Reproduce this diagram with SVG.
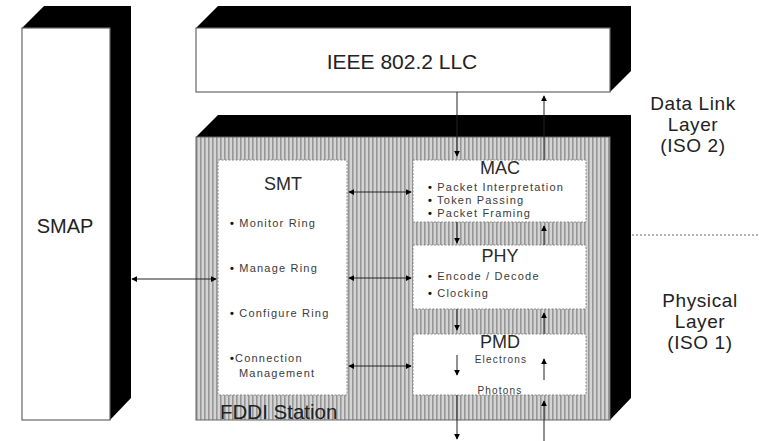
<svg xmlns="http://www.w3.org/2000/svg" width="759" height="441" viewBox="0 0 759 441">
<defs>
<pattern id="stripes" width="4" height="4" patternUnits="userSpaceOnUse">
<rect width="4" height="4" fill="#d4d4d4"/>
<rect width="1.6" height="4" fill="#979797"/>
</pattern>
<marker id="ah" viewBox="0 0 8 8" refX="7" refY="4" markerWidth="6" markerHeight="6" orient="auto-start-reverse" markerUnits="userSpaceOnUse">
<path d="M0,0 L8,4 L0,8 z" fill="#000"/>
</marker>
<style>
.t{font-family:"Liberation Sans",Arial,sans-serif;fill:#222}
.ttl{font-size:18px;text-anchor:middle;fill:#2a2a2a}
.itm{font-size:11px;letter-spacing:1.2px;fill:#3a3a3a}
.sm{font-size:10px;letter-spacing:1.2px;fill:#3a3a3a}
.b{font-weight:bold;fill:#111}
.lay{font-size:19px;text-anchor:middle;letter-spacing:0.6px}
.front{fill:#fff;stroke:#666;stroke-width:1.2}
.blk{fill:#000}
.inner{fill:#fff;stroke:#888;stroke-width:1;stroke-dasharray:2 1.5}
.c{stroke:#222;stroke-width:1;fill:none}
</style>
</defs>

<g id="smap">
<polygon class="blk" points="22,28 44,6 131,6 131,398 110,420 110,28"/>
<rect class="front" x="22" y="28" width="88" height="392"/>
<text class="t" x="65" y="233" font-size="20" text-anchor="middle">SMAP</text>
</g>

<g id="llc">
<polygon class="blk" points="196,28 218,6 631,6 631,71 610,92 610,28"/>
<rect class="front" x="196" y="28" width="414" height="64"/>
<text class="t" x="402" y="69" font-size="21" text-anchor="middle">IEEE 802.2 LLC</text>
</g>

<g id="fddi">
<polygon class="blk" points="196,137 218,115 631,115 631,398 610,420 610,137"/>
<rect x="196" y="137" width="414" height="283" fill="url(#stripes)" stroke="#666" stroke-width="1"/>
<text class="t" x="220" y="419" font-size="20.5">FDDI Station</text>
</g>

<g id="smt">
<rect class="inner" x="218" y="160" width="129" height="235"/>
<text class="t ttl" x="283" y="190">SMT</text>
<text class="t itm" x="230" y="227"><tspan class="b">•</tspan> Monitor Ring</text>
<text class="t itm" x="230" y="272"><tspan class="b">•</tspan> Manage Ring</text>
<text class="t itm" x="230" y="317"><tspan class="b">•</tspan> Configure Ring</text>
<text class="t itm" x="230" y="362"><tspan class="b">•</tspan>Connection</text>
<text class="t itm" x="239" y="377">Management</text>
</g>

<g id="mac">
<rect class="inner" x="413" y="160" width="173" height="62"/>
<text class="t ttl" x="500" y="174">MAC</text>
<text class="t itm" x="428" y="191"><tspan class="b">•</tspan>  Packet Interpretation</text>
<text class="t itm" x="428" y="204"><tspan class="b">•</tspan> Token Passing</text>
<text class="t itm" x="428" y="217"><tspan class="b">•</tspan>  Packet Framing</text>
</g>

<g id="phy">
<rect class="inner" x="413" y="245" width="173" height="64"/>
<text class="t ttl" x="500" y="262">PHY</text>
<text class="t itm" x="428" y="280"><tspan class="b">•</tspan> Encode / Decode</text>
<text class="t itm" x="428" y="297"><tspan class="b">•</tspan> Clocking</text>
</g>

<g id="pmd">
<rect class="inner" x="413" y="334" width="173" height="61"/>
<text class="t ttl" x="500" y="348">PMD</text>
<text class="t sm" x="501" y="363" text-anchor="middle">Electrons</text>
<text class="t sm" x="500" y="394" text-anchor="middle">Photons</text>
</g>

<g id="layers">
<text class="t lay" x="693" y="110">Data Link</text>
<text class="t lay" x="693" y="131">Layer</text>
<text class="t lay" x="693" y="152">(ISO 2)</text>
<text class="t lay" x="700" y="307">Physical</text>
<text class="t lay" x="700" y="328">Layer</text>
<text class="t lay" x="700" y="349">(ISO 1)</text>
<line x1="632" y1="235" x2="759" y2="235" stroke="#999" stroke-width="1.5" stroke-dasharray="2 2"/>
</g>

<g id="connectors">
<line class="c" x1="457" y1="92" x2="457" y2="156" marker-end="url(#ah)"/>
<line class="c" x1="544" y1="160" x2="544" y2="96" marker-end="url(#ah)"/>
<line class="c" x1="457" y1="222" x2="457" y2="243" marker-end="url(#ah)"/>
<line class="c" x1="544" y1="245" x2="544" y2="226" marker-end="url(#ah)"/>
<line class="c" x1="457" y1="309" x2="457" y2="330" marker-end="url(#ah)"/>
<line class="c" x1="544" y1="334" x2="544" y2="313" marker-end="url(#ah)"/>
<line class="c" x1="457" y1="355" x2="457" y2="375" marker-end="url(#ah)"/>
<line class="c" x1="544" y1="380" x2="544" y2="359" marker-end="url(#ah)"/>
<line class="c" x1="457" y1="395" x2="457" y2="439" marker-end="url(#ah)"/>
<line class="c" x1="544" y1="441" x2="544" y2="401" marker-end="url(#ah)"/>
<line class="c" x1="349" y1="192" x2="411" y2="192" marker-start="url(#ah)" marker-end="url(#ah)"/>
<line class="c" x1="349" y1="278" x2="411" y2="278" marker-start="url(#ah)" marker-end="url(#ah)"/>
<line class="c" x1="349" y1="366" x2="411" y2="366" marker-start="url(#ah)" marker-end="url(#ah)"/>
<line class="c" x1="132" y1="279" x2="216" y2="279" marker-start="url(#ah)" marker-end="url(#ah)"/>
</g>
</svg>
